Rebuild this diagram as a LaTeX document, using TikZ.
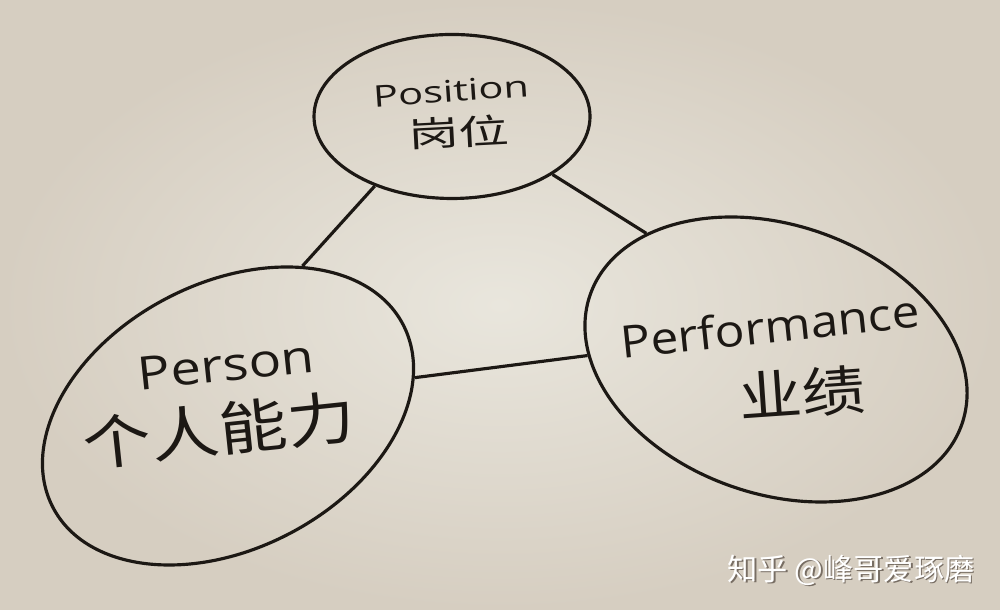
\documentclass[tikz,border=0pt]{standalone}
\usepackage{fontspec}
\setmainfont{Open Sans}
\newfontfamily\cjk{Noto Sans CJK SC}
\usepackage{tikz}
\usetikzlibrary{shapes.geometric}
\usetikzlibrary{positioning}
\definecolor{paperlight}{RGB}{233,230,221}
\definecolor{paperdark}{RGB}{214,206,193}
\definecolor{ink}{RGB}{28,24,20}
\definecolor{markshadow}{RGB}{120,110,100}

\begin{document}
\begin{tikzpicture}
				\tikzstyle{ringnode}=[draw=ink, line width=0.9pt, ellipse, inner sep=0pt, fill=none]
				\tikzstyle{textnode}=[text=ink, inner sep=0pt]
				\tikzstyle{linkline}=[draw=ink, line width=0.9pt]
				
				\useasboundingbox (0,0) rectangle (10,6.1);
				\shade [inner color=paperlight, outer color=paperdark] (0,0) rectangle (10,6.1);
				
				\node (pos) at (4.52,4.935) [ringnode, minimum width=2.76cm, minimum height=1.64cm] {};
				\node (person) at (2.28,1.94) [ringnode, minimum width=3.95cm, minimum height=2.654cm, rotate=27.6] {};
				\node (perf) at (7.76,2.505) [ringnode, minimum width=3.936cm, minimum height=2.688cm, rotate=-19.2] {};
				
				\node (posen) at (4.51,5.19) [textnode, rotate=4, yscale=0.72] {\fontsize{11.8}{12}\selectfont Position};
				\node (poszh) at (4.59,4.78) [textnode, rotate=3, yscale=0.68] {\fontsize{14.3}{15}\selectfont\cjk 岗位};
				
				\node (personen) at (2.26,2.45) [textnode, rotate=6, yscale=0.85] {\fontsize{15.4}{16}\selectfont Person};
				\node (personzh) at (2.19,1.80) [textnode, rotate=6, yscale=0.85] {\fontsize{19.4}{20}\selectfont\cjk 个人能力};
				
				\node (perfen) at (7.70,2.84) [textnode, rotate=6, yscale=0.9] {\fontsize{14.1}{15}\selectfont Performance};
				\node (perfzh) at (8.02,2.17) [textnode, rotate=4, yscale=0.85] {\fontsize{18}{19}\selectfont\cjk 业绩};
				
				\draw [linkline] (pos.222.5) -- (person.36);
				\draw [linkline] (pos.330.6) -- (perf.155.2);
				\draw [linkline] (person.344.8) -- (perf.198.4);
				
				% watermark
				\node (markshade) at (8.525,0.385) [text=markshadow, inner sep=0pt] {\fontsize{8.6}{9}\selectfont\cjk 知乎 @峰哥爱琢磨};
				\node (mark) at (8.51,0.40) [text=white, inner sep=0pt] {\fontsize{8.6}{9}\selectfont\cjk 知乎 @峰哥爱琢磨};
				
				\end{tikzpicture}
\end{document}
